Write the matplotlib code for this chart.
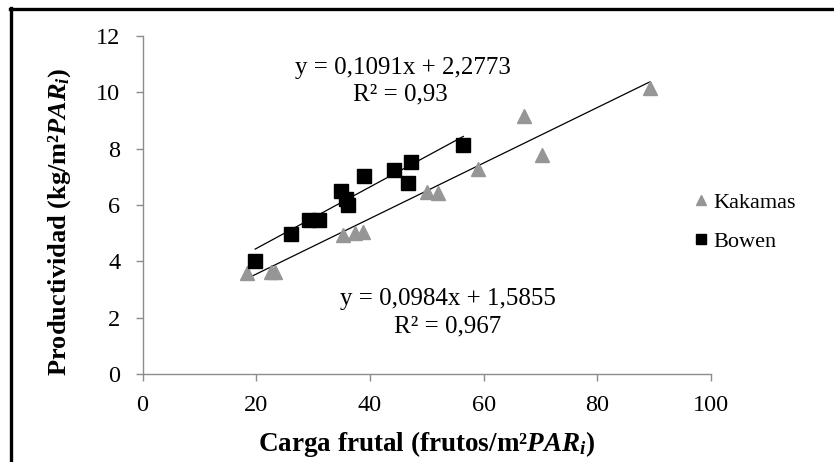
import numpy as np
import matplotlib
matplotlib.use("Agg")
import matplotlib.pyplot as plt
from matplotlib.lines import Line2D

plt.rcParams["font.family"] = ["Liberation Serif", "DejaVu Serif"]
plt.rcParams["mathtext.fontset"] = "custom"
plt.rcParams["mathtext.rm"] = "Liberation Serif:bold"
plt.rcParams["mathtext.it"] = "Liberation Serif:italic:bold"
plt.rcParams["mathtext.bf"] = "Liberation Serif:bold"

# data
kak_x = [18.4, 22.6, 23.2, 35.2, 37.4, 38.8, 50.0, 52.0, 58.9, 67.1, 70.2, 89.2]
kak_y = [3.60, 3.64, 3.64, 4.93, 4.99, 5.05, 6.46, 6.43, 7.26, 9.16, 7.77, 10.13]
bow_x = [19.8, 26.1, 29.3, 31.0, 34.9, 35.7, 36.2, 38.9, 44.3, 46.6, 47.2, 56.4]
bow_y = [4.03, 4.96, 5.47, 5.47, 6.50, 6.22, 6.00, 7.04, 7.24, 6.79, 7.52, 8.14]

kak_fit = (0.0984, 1.5855)
bow_fit = (0.1091, 2.2773)
kak_eq = ["y = 0,0984x + 1,5855", "R² = 0,967"]
bow_eq = ["y = 0,1091x + 2,2773", "R² = 0,93"]

series_names = ["Kakamas", "Bowen"]
xticks = [0, 20, 40, 60, 80, 100]
yticks = [0, 2, 4, 6, 8, 10, 12]

GRAY = "#969696"
SPINE = "#8c8c8c"

W, H = 834, 462
fig = plt.figure(figsize=(W / 100, H / 100), dpi=100)
ax = fig.add_axes([142.6 / W, 1 - 374.3 / H, (711.2 - 142.6) / W, (374.3 - 35.7) / H])

# trend lines over the range of each series
for xs, (m, b) in ((kak_x, kak_fit), (bow_x, bow_fit)):
    xx = np.array([min(xs), max(xs)])
    ax.plot(xx, m * xx + b, color="black", lw=0.9, zorder=2)

ax.plot(kak_x, kak_y, linestyle="none", marker="^", ms=9.5, color=GRAY,
        mec=GRAY, zorder=3)
ax.plot(bow_x, bow_y, linestyle="none", marker="s", ms=9.5, color="black",
        mec="black", zorder=4)

ax.set_xlim(0, 100)
ax.set_ylim(0, 12)
ax.set_xticks(xticks)
ax.set_yticks(yticks)
for s in ("top", "right"):
    ax.spines[s].set_visible(False)
for s in ("left", "bottom"):
    ax.spines[s].set_color(SPINE)
    ax.spines[s].set_linewidth(1.0)
ax.tick_params(direction="out", length=5, width=1.0, color=SPINE,
               labelsize=17.5)
ax.tick_params(axis="x", pad=10)
ax.tick_params(axis="y", pad=11)

# regression equations
fs_eq = 18
ax.text(403 / W, 1 - 68 / H, bow_eq[0], transform=fig.transFigure,
        ha="center", va="center", fontsize=fs_eq)
ax.text(400 / W, 1 - 94 / H, bow_eq[1], transform=fig.transFigure,
        ha="center", va="center", fontsize=fs_eq)
ax.text(448 / W, 1 - 299 / H, kak_eq[0], transform=fig.transFigure,
        ha="center", va="center", fontsize=fs_eq)
ax.text(448 / W, 1 - 326 / H, kak_eq[1], transform=fig.transFigure,
        ha="center", va="center", fontsize=fs_eq)

# axis labels
fig.text(427 / W, 1 - 444 / H, "Carga frutal (frutos/m²$\\mathit{PAR_i}$)",
         ha="center", va="center", fontsize=19.5, fontweight="bold")
fig.text(60 / W, 1 - 222 / H, "Productividad (kg/m²$\\mathit{PAR_i}$)",
         ha="center", va="center", fontsize=19, fontweight="bold",
         rotation=90)

# legend outside the plot on the right
handles = [
    Line2D([], [], linestyle="none", marker="^", ms=7, color=GRAY, mec=GRAY),
    Line2D([], [], linestyle="none", marker="s", ms=7, color="black"),
]
fig.legend(handles, series_names, loc="center left",
           bbox_to_anchor=(687 / W, 1 - 222 / H), frameon=False,
           fontsize=16, handlelength=0.5, handletextpad=0.3,
           labelspacing=0.85, borderaxespad=0)

# frame lines at top and left edge of the picture
fig.add_artist(Line2D([10 / W, 1], [1 - 9 / H] * 2, transform=fig.transFigure,
                      color="black", lw=2.4))
fig.add_artist(Line2D([11 / W] * 2, [0, 1 - 8 / H], transform=fig.transFigure,
                      color="black", lw=2.4))

fig.savefig("out.png", dpi=100)
